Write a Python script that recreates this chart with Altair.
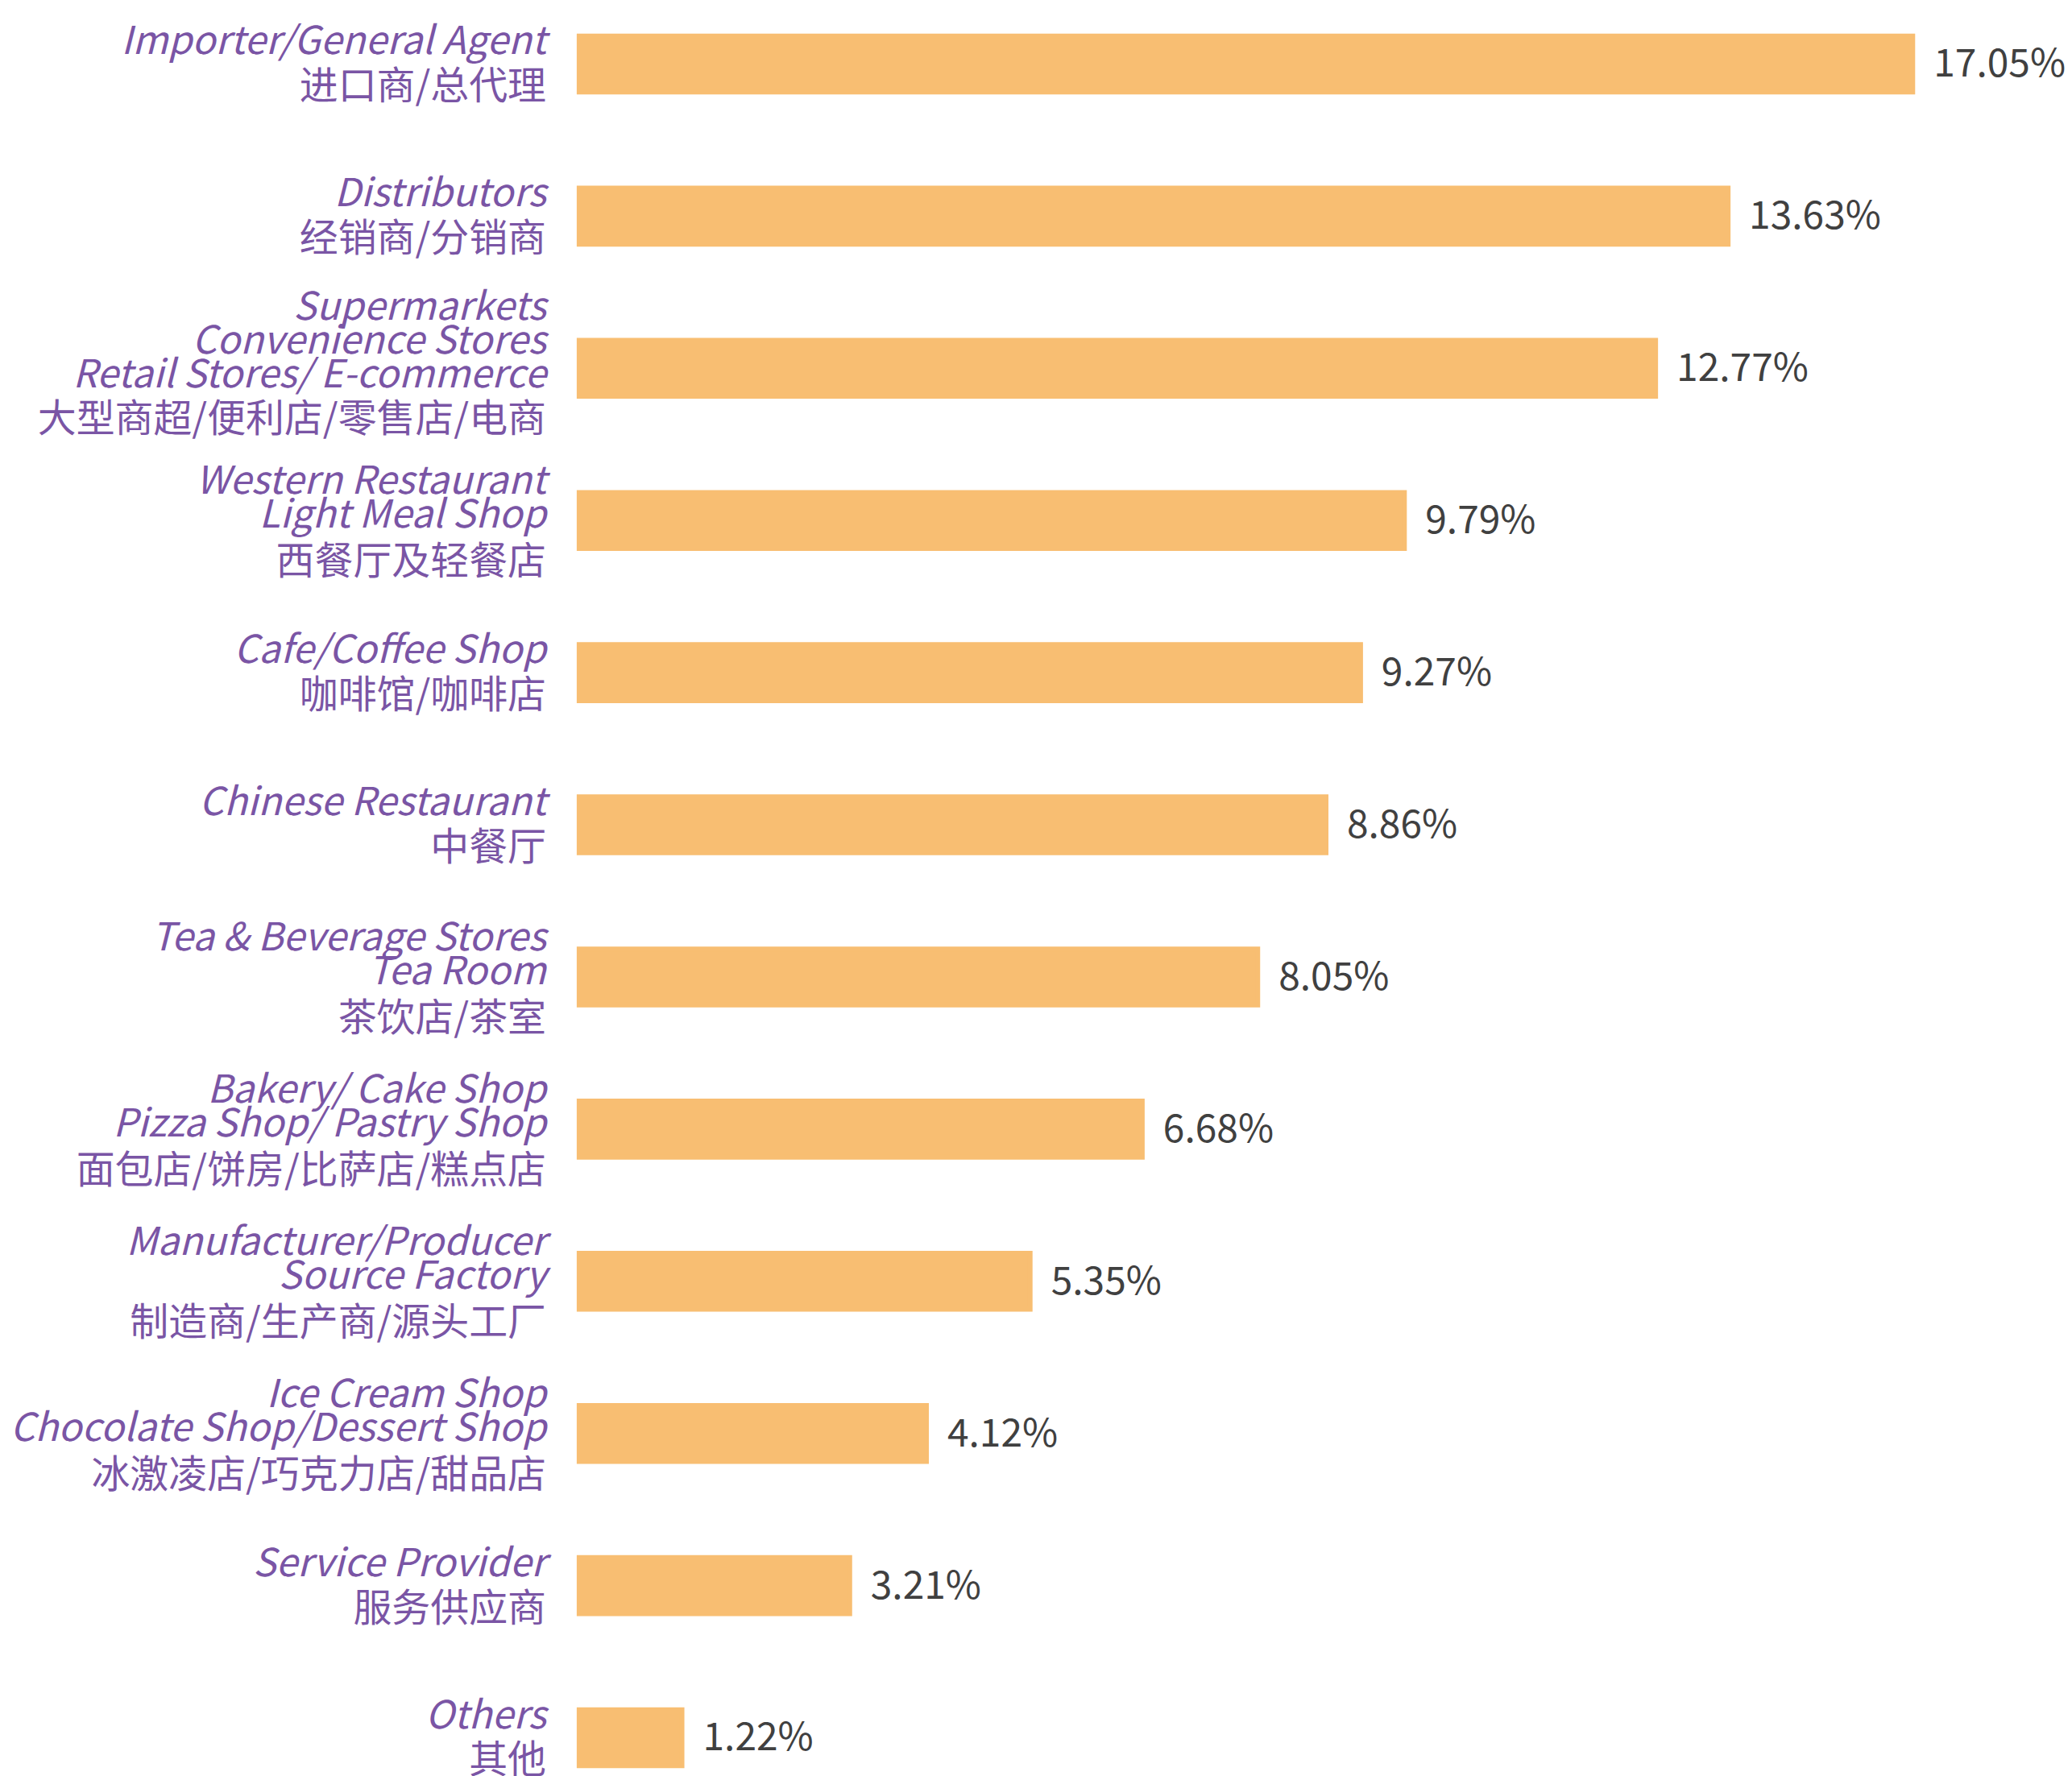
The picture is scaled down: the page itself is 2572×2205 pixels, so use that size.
import altair as alt
import pandas as pd

# ---------------- data ----------------
english = [
    "Importer/General Agent",
    "Distributors",
    "Supermarkets\nConvenience Stores\nRetail Stores/ E-commerce",
    "Western Restaurant\nLight Meal Shop",
    "Cafe/Coffee Shop",
    "Chinese Restaurant",
    "Tea & Beverage Stores\nTea Room",
    "Bakery/ Cake Shop\nPizza Shop/ Pastry Shop",
    "Manufacturer/Producer\nSource Factory",
    "Ice Cream Shop\nChocolate Shop/Dessert Shop",
    "Service Provider",
    "Others",
]
chinese = [
    "进口商/总代理",
    "经销商/分销商",
    "大型商超/便利店/零售店/电商",
    "西餐厅及轻餐店",
    "咖啡馆/咖啡店",
    "中餐厅",
    "茶饮店/茶室",
    "面包店/饼房/比萨店/糕点店",
    "制造商/生产商/源头工厂",
    "冰激凌店/巧克力店/甜品店",
    "服务供应商",
    "其他",
]
values = [17.05, 13.63, 12.77, 9.79, 9.27, 8.86, 8.05, 6.68, 5.35, 4.12, 3.21, 1.22]

keys = [f"c{i:02d}" for i in range(len(values))]
df = pd.DataFrame({
    "key": keys,
    "en": english,
    "zh": chinese,
    "value": values,
    "label": [f"{v:.2f}%" for v in values],
    "n": [e.count("\n") + 1 for e in english],
})

# ---------------- style ----------------
FONT = "Noto Sans CJK SC"
ORANGE = "#F8BE72"
PURPLE = "#7A55A5"
GRAY = "#404040"
FS = 48
LH = 42

y_enc = alt.Y("key:N", sort=keys, axis=None,
              scale=alt.Scale(paddingInner=0.6316, paddingOuter=0.0793))
x_scale = alt.Scale(domain=[0, 15.82], clamp=True, nice=False, zero=True)

base = alt.Chart(df)

bars = base.mark_bar(color=ORANGE, stroke=ORANGE, strokeWidth=6).encode(
    x=alt.X("value:Q", scale=x_scale, axis=None),
    y=y_enc,
)

vals = base.mark_text(
    align="left", baseline="middle", dx=26, dy=2,
    fontSize=FS, font=FONT, color=GRAY,
).encode(
    x=alt.X("value:Q", scale=x_scale, axis=None),
    y=y_enc,
    text="label:N",
)

# vertical offsets of the English block / Chinese line, by number of English lines
dy_en = {1: -12, 2: -33, 3: -60}
dy_zh = {1: 44, 2: 67, 3: 79}

layers = [bars, vals]
for n in (1, 2, 3):
    en_layer = base.transform_filter(alt.datum.n == n).mark_text(
        align="right", baseline="alphabetic", dx=-41, dy=dy_en[n],
        fontSize=FS, font=FONT, fontStyle="italic", color=PURPLE,
        lineBreak="\n", lineHeight=LH,
    ).encode(x=alt.value(0), y=y_enc, text="en:N")
    zh_layer = base.transform_filter(alt.datum.n == n).mark_text(
        align="right", baseline="alphabetic", dx=-41, dy=dy_zh[n],
        fontSize=FS, font=FONT, color=PURPLE,
    ).encode(x=alt.value(0), y=y_enc, text="zh:N")
    layers += [en_layer, zh_layer]

chart = alt.layer(*layers).properties(
    width=1658,
    height=2181,
    autosize=alt.AutoSizeParams(type="none"),
    padding={"left": 712, "top": 20, "right": 190, "bottom": 10},
    background="white",
).configure_view(strokeWidth=0)

chart.save("out.html", embed_options={"renderer": "svg", "actions": False})
